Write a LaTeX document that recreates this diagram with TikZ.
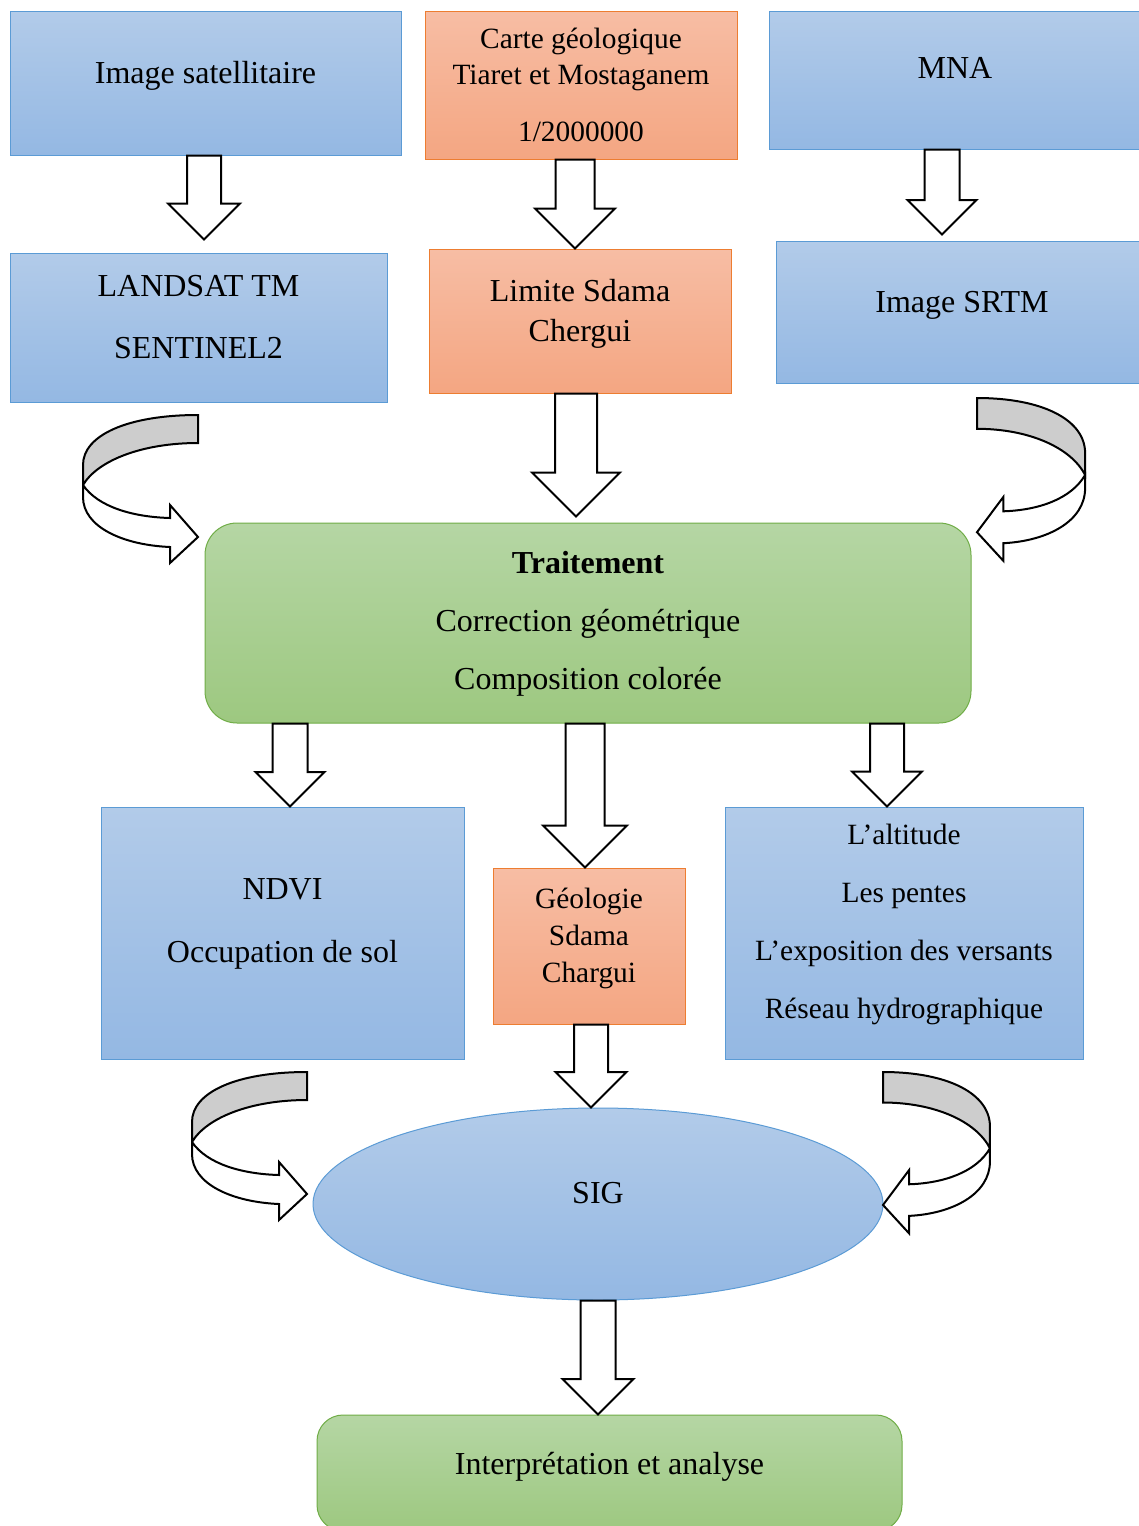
\documentclass[tikz,border=0pt]{standalone}
\usepackage{fontspec}
\setmainfont{Liberation Serif}
\usepackage{tikz}
\usetikzlibrary{calc,shapes.geometric}
\definecolor{bluetop}{RGB}{178,203,233}
\definecolor{bluebot}{RGB}{148,184,227}
\definecolor{blueline}{RGB}{91,155,213}
\definecolor{orgtop}{RGB}{247,189,164}
\definecolor{orgbot}{RGB}{244,166,130}
\definecolor{orgline}{RGB}{237,125,49}
\definecolor{grntop}{RGB}{181,214,164}
\definecolor{grnbot}{RGB}{157,200,128}
\definecolor{grnline}{RGB}{112,173,71}
\definecolor{backgrey}{RGB}{205,205,205}
% hollow block arrow: from node, to node, x centre, shaft half, head half, gap
\newcommand{\blockarr}[6]{%
  \draw[bigarr] let \p0=(#3,0), \p1=(#1.south), \p2=(#2.north) in
    (\x0-#4,\y1) -- (\x0+#4,\y1) -- (\x0+#4,\y2+#6+#5) -- (\x0+#5,\y2+#6+#5)
    -- (\x0,\y2+#6) -- (\x0-#5,\y2+#6+#5) -- (\x0-#4,\y2+#6+#5) -- cycle;}

\begin{document}
\begin{tikzpicture}[x=0.5pt,y=-0.5pt,
  every node/.style={font=\fontsize{16}{29}\selectfont,align=center,inner sep=0pt},
  bluebox/.style={draw=blueline,line width=0.5pt,top color=bluetop,bottom color=bluebot},
  orgbox/.style={draw=orgline,line width=0.5pt,top color=orgtop,bottom color=orgbot},
  grnbox/.style={draw=grnline,line width=0.5pt,top color=grntop,bottom color=grnbot},
  bigarr/.style={draw=black,fill=white,line width=1pt},
  curvback/.style={draw=black,fill=backgrey,line width=1pt},
  curvfront/.style={draw=black,fill=white,line width=1pt},
  curvarr/.pic={
    \draw[curvback] (0,0) .. controls (-70,0) and (-115,20) .. (-115,50) -- (-115,70)
      .. controls (-100,45) and (-55,28) .. (0,28) -- cycle;
    \draw[curvfront] (-115,70) .. controls (-100,92) and (-65,102) .. (-28,103)
      -- (-28,90) -- (0,122) -- (-28,148) -- (-28,132)
      .. controls (-75,130) and (-115,112) .. (-115,82) -- cycle;
  }]
\path[use as bounding box,fill=white] (0,0) rectangle (1139,1526);

% first row
\node[bluebox,minimum width=195.5pt,minimum height=72pt,text depth=11pt] (sat) at (205.5,83) {Image satellitaire};
\node[orgbox,minimum width=156pt,minimum height=74pt,text depth=0.5pt,font=\fontsize{14.7}{18}\selectfont] (carte) at (581,85)
  {Carte géologique\\Tiaret et Mostaganem\\[10.5pt]1/2000000};
\node[bluebox,minimum width=186pt,minimum height=69pt,text depth=12pt] (mna) at (955,80) {MNA};

% second row
\node[bluebox,minimum width=188.5pt,minimum height=74.5pt,text depth=11pt,font=\fontsize{16}{31}\selectfont] (landsat) at (198.5,327.5)
  {LANDSAT TM\\SENTINEL2};
\node[orgbox,minimum width=151pt,minimum height=72pt,text depth=11pt,font=\fontsize{16}{20}\selectfont] (limite) at (580,321)
  {Limite Sdama\\Chergui};
\node[bluebox,minimum width=186pt,minimum height=71pt,text depth=10pt] (srtm) at (962,312) {Image SRTM};

% processing
\node[grnbox,rounded corners=16pt,minimum width=383pt,minimum height=100pt,text depth=3pt] (trait) at (588,623)
  {\textbf{Traitement}\\Correction géométrique\\Composition colorée};

% third row
\node[bluebox,minimum width=181.5pt,minimum height=126pt,text depth=12pt,font=\fontsize{16}{31.5}\selectfont] (ndvi) at (282.5,933)
  {NDVI\\Occupation de sol};
\node[orgbox,minimum width=96pt,minimum height=78pt,text depth=11pt,font=\fontsize{14.7}{18.5}\selectfont] (geol) at (589,946)
  {Géologie\\Sdama\\Chargui};
\node[bluebox,minimum width=179pt,minimum height=126pt,text depth=12pt,font=\fontsize{14.7}{29}\selectfont] (relief) at (904,933)
  {L’altitude\\Les pentes\\L’exposition des versants\\Réseau hydrographique};

% GIS and result
\node[bluebox,ellipse,minimum width=285pt,minimum height=96pt,text depth=11pt] (sig) at (598,1204) {SIG};
\node[grnbox,rounded corners=13pt,minimum width=292.5pt,minimum height=58pt,text depth=10pt] (interp) at (609.5,1473)
  {Interprétation et analyse};

% block arrows
\blockarr{sat}{landsat}{204}{8.5pt}{18pt}{6.5pt}
\blockarr{carte}{limite}{575}{9.75pt}{20pt}{0pt}
\blockarr{mna}{srtm}{942}{8.75pt}{17.25pt}{3pt}
\blockarr{limite}{trait}{576}{10.5pt}{22pt}{3pt}
\blockarr{trait}{ndvi}{290}{8.75pt}{17.25pt}{0pt}
\blockarr{trait}{geol}{585}{9.75pt}{21pt}{0pt}
\blockarr{trait}{relief}{887}{8.5pt}{17.5pt}{0pt}
\blockarr{geol}{sig}{591}{8.5pt}{17.75pt}{0pt}
\blockarr{sig}{interp}{598}{8.75pt}{17.75pt}{0pt}

% curved arrows
\pic at (198,415) {curvarr};
\pic[xscale=-0.94,yscale=1.1] at (977,398) {curvarr};
\pic at (307,1072) {curvarr};
\pic[xscale=-0.93,yscale=1.09] at (883,1072) {curvarr};
\end{tikzpicture}
\end{document}
